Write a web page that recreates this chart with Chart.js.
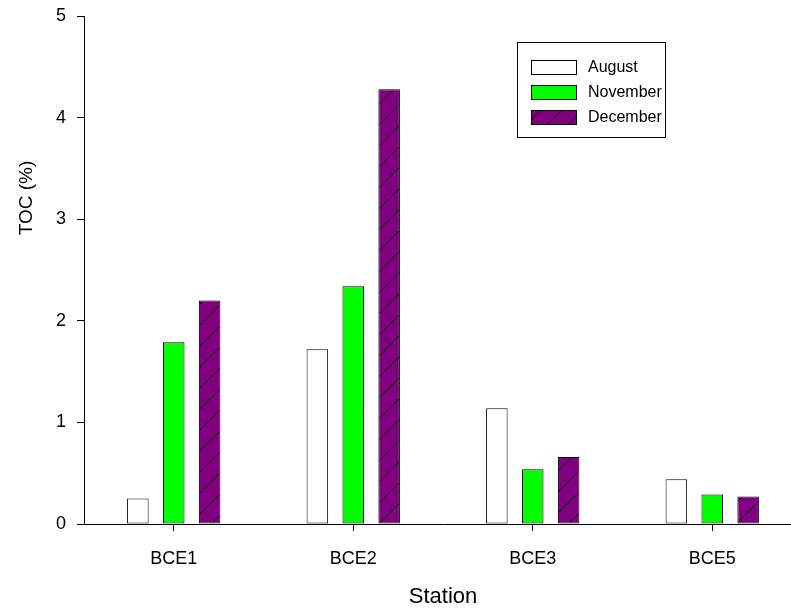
<!DOCTYPE html>
<html>
<head>
<meta charset="utf-8">
<script src="https://cdn.jsdelivr.net/npm/chart.js@4"></script>
<style>
  html, body { margin: 0; padding: 0; background: #fff; overflow: hidden; }
  #wrap { width: 812px; height: 610px; }
</style>
</head>
<body>
<div id="wrap"><canvas id="tocChart" width="812" height="610"></canvas></div>
<script>
const stations = ['BCE1', 'BCE2', 'BCE3', 'BCE5'];
const august = [0.25, 1.72, 1.14, 0.44];
const november = [1.79, 2.34, 0.54, 0.29];
const december = [2.20, 4.28, 0.66, 0.27];
const seriesNames = ['August', 'November', 'December'];

const FONT = 'Liberation Sans, Arial, Helvetica, sans-serif';

// diagonal hatch for December
function makeHatch(bg) {
  const s = 21;
  const c = document.createElement('canvas');
  c.width = s; c.height = s;
  const g = c.getContext('2d');
  g.fillStyle = bg;
  g.fillRect(0, 0, s, s);
  g.strokeStyle = '#000';
  g.lineWidth = 1;
  g.beginPath();
  g.moveTo(0, s); g.lineTo(s, 0);
  g.stroke();
  return g.createPattern(c, 'repeat');
}

const hatch = makeHatch('#800080');

// boxed legend in the upper right + y title sitting above centre
const boxLegend = {
  id: 'boxLegend',
  afterDraw(chart) {
    const ctx = chart.ctx;
    const x0 = 517, y0 = 42, w = 148, h = 95;
    ctx.save();
    ctx.strokeStyle = '#000';
    ctx.lineWidth = 1;
    ctx.strokeRect(x0 + 0.5, y0 + 0.5, w, h);
    ctx.font = '16px ' + FONT;
    ctx.textBaseline = 'middle';
    chart.data.datasets.forEach((ds, i) => {
      const cy = 67 + i * 25;
      ctx.fillStyle = ds.backgroundColor;
      ctx.fillRect(531, cy - 7, 45, 14);
      ctx.strokeStyle = '#000';
      ctx.strokeRect(531.5, cy - 6.5, 45, 14);
      ctx.fillStyle = '#000';
      ctx.fillText(ds.label, 588, cy + 1);
    });

    ctx.translate(27, 198);
    ctx.rotate(-Math.PI / 2);
    ctx.textAlign = 'center';
    ctx.font = '19px ' + FONT;
    ctx.fillText('TOC (%)', 0, 0);
    ctx.restore();
  }
};

const common = {
  borderColor: '#000',
  borderWidth: 1,
  borderSkipped: false,
  categoryPercentage: 0.6,
  barPercentage: 0.6
};

new Chart(document.getElementById('tocChart'), {
  type: 'bar',
  data: {
    labels: stations,
    datasets: [
      { ...common, label: seriesNames[0], data: august, backgroundColor: '#ffffff' },
      { ...common, label: seriesNames[1], data: november, backgroundColor: '#00ff00' },
      { ...common, label: seriesNames[2], data: december, backgroundColor: hatch }
    ]
  },
  options: {
    responsive: false,
    animation: false,
    layout: { padding: { top: 16, right: 10, left: 0, bottom: 0 } },
    plugins: {
      legend: { display: false },
      tooltip: { enabled: false }
    },
    scales: {
      x: {
        afterFit(scale) {
          scale.height = 86;
          scale.paddingLeft = 0;
          scale.paddingRight = 0;
        },
        grid: { offset: false, drawOnChartArea: false, drawTicks: true, tickLength: 7, color: '#000' },
        border: { display: true, color: '#000', width: 1 },
        ticks: { color: '#000', font: { family: FONT, size: 18 }, padding: 17 },
        title: { display: true, text: 'Station', color: '#000', font: { family: FONT, size: 22 }, padding: { bottom: 0 } }
      },
      y: {
        min: 0,
        max: 5,
        afterFit(scale) {
          scale.width = 84;
          scale.paddingTop = 0;
          scale.paddingBottom = 0;
        },
        grid: { drawOnChartArea: false, drawTicks: true, tickLength: 7, color: '#000' },
        border: { display: true, color: '#000', width: 1 },
        ticks: { stepSize: 1, color: '#000', font: { family: FONT, size: 18 }, padding: 11 },
        title: { display: false }
      }
    }
  },
  plugins: [boxLegend]
});
</script>
</body>
</html>
